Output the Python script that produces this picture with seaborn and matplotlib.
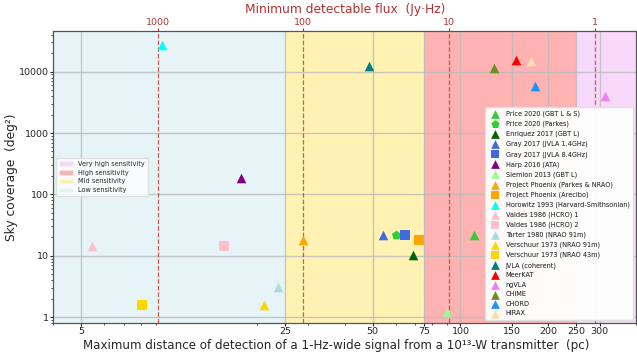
import numpy as np
import pandas as pd
import matplotlib
matplotlib.use("Agg")
import matplotlib.pyplot as plt
import seaborn as sns
from matplotlib.ticker import FixedLocator, NullFormatter, FixedFormatter, NullLocator
from matplotlib.patches import Patch

# ---------------- data ----------------
labels = [
    "Price 2020 (GBT L & S)", "Price 2020 (Parkes)", "Enriquez 2017 (GBT L)",
    "Gray 2017 (JVLA 1.4GHz)", "Gray 2017 (JVLA 8.4GHz)", "Harp 2016 (ATA)",
    "Siemion 2013 (GBT L)", "Project Phoenix (Parkes & NRAO)", "Project Phoenix (Arecibo)",
    "Horowitz 1993 (Harvard-Smithsonian)", "Valdes 1986 (HCRO) 1", "Valdes 1986 (HCRO) 2",
    "Tarter 1980 (NRAO 91m)", "Verschuur 1973 (NRAO 91m)", "Verschuur 1973 (NRAO 43m)",
    "JVLA (coherent)", "MeerKAT", "ngVLA", "CHIME", "CHORD", "HIRAX",
]
distance_pc = [111, 60, 68.5, 54.2, 64.5, 17.7, 90, 28.9, 72.2, 9.48, 5.44, 15.4,
               23.6, 21.1, 8.05, 48.7, 154.5, 314, 130, 180, 175]
sky_coverage = [21.6, 22, 10.4, 22, 22, 187, 1.2, 17.7, 18, 27500, 14.4, 14.4,
                3.04, 1.57, 1.6, 12200, 15300, 4000, 11600, 5840, 14900]
markers = ["^", "p", "^", "^", "s", "^", "^", "^", "s", "^", "^", "s",
           "^", "^", "s", "^", "^", "^", "^", "^", "^"]
colors = ["limegreen", "limegreen", "darkgreen", "royalblue", "royalblue", "purple",
          "palegreen", "orange", "orange", "cyan", "pink", "pink",
          "lightblue", "gold", "gold", "teal", "red", "violet", "olivedrab",
          "dodgerblue", "wheat"]

region_names = ["Very high sensitivity", "High sensitivity", "Mid sensitivity", "Low sensitivity"]
region_colors = ["violet", "red", "gold", "lightblue"]
region_edges = [(250, 400), (75, 250), (25, 75), (4, 25)]

xtick_vals = [5, 25, 50, 75, 100, 150, 200, 250, 300]
ytick_vals = [1, 10, 100, 1000, 10000]
flux_ticks = [1000, 100, 10, 1]

# flux (Jy*Hz) of a 1e13 W transmitter at distance d (pc)
K = 1e13 / (4 * np.pi * (3.0857e16) ** 2) / 1e-26

df = pd.DataFrame({"label": labels, "d": distance_pc, "cov": sky_coverage})

# ---------------- figure ----------------
sns.set_style("ticks")
plt.rcParams["font.family"] = ["DejaVu Sans"]
fig, ax = plt.subplots(figsize=(6.37, 3.55), dpi=100)
L, R, T, B = 53, 636, 31, 323
fig.subplots_adjust(left=L / 637, right=R / 637, top=1 - T / 355, bottom=1 - B / 355)
W, H = R - L, B - T

ax.set_xscale("log")
ax.set_yscale("log")
xlim = (4, 400)
ax.set_xlim(*xlim)
ax.set_ylim(0.8, 46000)

region_handles = []
for name, col, (a, b) in zip(region_names, region_colors, region_edges):
    ax.axvspan(a, b, color=col, alpha=0.3, lw=0, zorder=0)
    region_handles.append(Patch(facecolor=col, alpha=0.3, label=name))

for f in flux_ticks:
    ax.axvline(np.sqrt(K / f), color="#c0392b", ls="--", lw=0.9, alpha=0.8, zorder=1.6)

ax.grid(True, which="major", color="#bbbbbb", lw=1.0, alpha=0.8)

for i, row in df.iterrows():
    sns.scatterplot(x=[row["d"]], y=[row["cov"]], marker=markers[i], color=colors[i],
                    s=48, linewidth=0, ax=ax, label=row["label"], zorder=3)

ax.xaxis.set_major_locator(FixedLocator(xtick_vals))
ax.xaxis.set_major_formatter(FixedFormatter([str(v) for v in xtick_vals]))
ax.xaxis.set_minor_formatter(NullFormatter())
ax.yaxis.set_major_locator(FixedLocator(ytick_vals))
ax.yaxis.set_major_formatter(FixedFormatter([str(v) for v in ytick_vals]))
ax.yaxis.set_minor_formatter(NullFormatter())
ax.tick_params(labelsize=6.8, colors="#222222", length=2, pad=1)
ax.tick_params(which="minor", length=1.3)
for s in ax.spines.values():
    s.set_color("#555555")
    s.set_linewidth(0.9)

ax.set_xlabel("Maximum distance of detection of a 1-Hz-wide signal from a 10\u00b9\u00b3-W transmitter  (pc)",
              fontsize=8.6, va="top")
ax.xaxis.set_label_coords((336 - L) / W, -(339 - B) / H)
ax.set_ylabel("Sky coverage  (deg\u00b2)", fontsize=8.8, va="center")
ax.yaxis.set_label_coords(-(L - 11.5) / W, 0.5)

# top axis: minimum detectable flux
ax2 = ax.twiny()
ax2.set_xscale("log")
ax2.set_xlim(K / xlim[0] ** 2, K / xlim[1] ** 2)
ax2.xaxis.set_major_locator(FixedLocator(flux_ticks))
ax2.xaxis.set_major_formatter(FixedFormatter([str(v) for v in flux_ticks]))
ax2.xaxis.set_minor_locator(NullLocator())
ax2.tick_params(labelsize=6.8, colors="#b03030", length=2, pad=1)
ax2.set_xlabel("Minimum detectable flux  (Jy\u00b7Hz)", fontsize=8.8, color="#b03030", va="center")
ax2.xaxis.set_label_coords((345 - L) / W, 1 + (T - 9.5) / H)
for s in ax2.spines.values():
    s.set_visible(False)

leg2 = ax.legend(loc="lower right", fontsize=4.7, markerscale=0.9, labelspacing=0.55,
                 handletextpad=0.6, borderpad=0.5, framealpha=0.8, edgecolor="#dddddd")
ax.add_artist(leg2)
leg1 = ax.legend(handles=region_handles, loc="center left", fontsize=4.7, framealpha=0.8,
                 edgecolor="#dddddd", labelspacing=0.45, handlelength=2.2)
ax.add_artist(leg2)

fig.savefig("out.png", dpi=100)
